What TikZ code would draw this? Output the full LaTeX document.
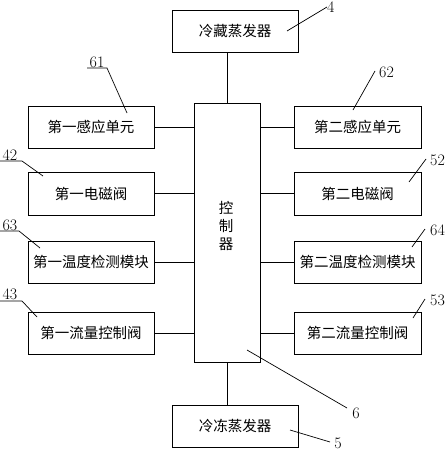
\documentclass[tikz,border=0pt]{standalone}
\usepackage{fontspec}
\newfontfamily\cjk{Noto Sans CJK SC}
\begin{document}
\begin{tikzpicture}[x=1pt,y=-1pt,
  box/.style={draw,line width=0.8pt,inner sep=0pt,font=\cjk\fontsize{14.5}{16}\selectfont},
  lead/.style={line width=0.7pt},
  num/.style={inner sep=0pt,font=\fontsize{16}{18}\selectfont}]
\useasboundingbox (0,0) rectangle (446,450);
% top / bottom evaporators
\node[box,minimum width=126pt,minimum height=42pt] (top) at (235,31) {冷藏蒸发器};
\node[box,minimum width=126pt,minimum height=42pt] (bot) at (235,426) {冷冻蒸发器};
% controller
\node[box,minimum width=66pt,minimum height=259pt] (ctl) at (227,232.5) {};
\node[font=\cjk\fontsize{14.5}{18}\selectfont,align=center,inner sep=0pt] (ctltxt) at (226,226) {控\\制\\器};
% left boxes
\node[box,minimum width=126pt,minimum height=42pt] (l1) at (91,127) {第一感应单元};
\node[box,minimum width=126pt,minimum height=43pt] (l2) at (91,193.5) {第一电磁阀};
\node[box,minimum width=126pt,minimum height=42pt] (l3) at (91,262) {第一温度检测模块};
\node[box,minimum width=126pt,minimum height=42pt] (l4) at (91,333) {第一流量控制阀};
% right boxes
\node[box,minimum width=127pt,minimum height=42pt] (r1) at (357.5,127) {第二感应单元};
\node[box,minimum width=127pt,minimum height=43pt] (r2) at (357.5,193.5) {第二电磁阀};
\node[box,minimum width=127pt,minimum height=42pt] (r3) at (357.5,262) {第二温度检测模块};
\node[box,minimum width=127pt,minimum height=42pt] (r4) at (357.5,333) {第二流量控制阀};
% connectors
\draw[line width=0.8pt] (top.south -| ctl) -- (ctl.north);
\draw[line width=0.8pt] (ctl.south) -- (bot.north -| ctl);
\foreach \n in {l1,l2,l3,l4}{\draw[line width=0.8pt] (\n.east) -- (\n.east -| ctl.west);}
\foreach \n in {r1,r2,r3,r4}{\draw[line width=0.8pt] (\n.west) -- (\n.west -| ctl.east);}
% labels
\node[num,anchor=west] (n4) at (327,7) {4};
\coordinate (c4) at (287,31);
\draw[lead] (c4) -- (n4.west);
\node[num] (n61) at (97,62) {61};
\coordinate (c61a) at (87,68); \coordinate (c61b) at (107,68); \coordinate (c61c) at (127,113);
\draw[lead] (c61a) -- (c61b) -- (c61c);
\node[num,anchor=west] (n62) at (379,72) {62};
\coordinate (c62t) at (375,71); \coordinate (c62) at (353,110);
\draw[lead] (c62t) -- (c62);
\node[num] (n42) at (10,155) {42};
\coordinate (c42a) at (0,161); \coordinate (c42b) at (22,161); \coordinate (c42c) at (43,176);
\draw[lead] (c42a) -- (c42b) -- (c42c);
\node[num,anchor=west] (n52) at (430,160) {52};
\coordinate (c52a) at (426,159); \coordinate (c52b) at (409,182);
\draw[lead] (c52a) -- (c52b);
\node[num] (n63) at (10,225) {63};
\coordinate (c63a) at (0,231); \coordinate (c63b) at (19,231); \coordinate (c63c) at (40,248);
\draw[lead] (c63a) -- (c63b) -- (c63c);
\node[num,anchor=west] (n64) at (430,230) {64};
\coordinate (c64a) at (425,229); \coordinate (c64b) at (412,247);
\draw[lead] (c64a) -- (c64b);
\node[num] (n43) at (10,294) {43};
\coordinate (c43a) at (0,301); \coordinate (c43b) at (22,301); \coordinate (c43c) at (37,317);
\draw[lead] (c43a) -- (c43b) -- (c43c);
\node[num,anchor=west] (n53) at (430,300) {53};
\coordinate (c53a) at (425,299); \coordinate (c53b) at (413,318);
\draw[lead] (c53a) -- (c53b);
\node[num] (n6) at (356,413) {6};
\coordinate (c6a) at (247,350); \coordinate (c6b) at (347,408);
\draw[lead] (c6a) -- (c6b);
\node[num] (n5) at (338,443) {5};
\coordinate (c5a) at (290,430); \coordinate (c5b) at (330,442);
\draw[lead] (c5a) -- (c5b);
\end{tikzpicture}
\end{document}
